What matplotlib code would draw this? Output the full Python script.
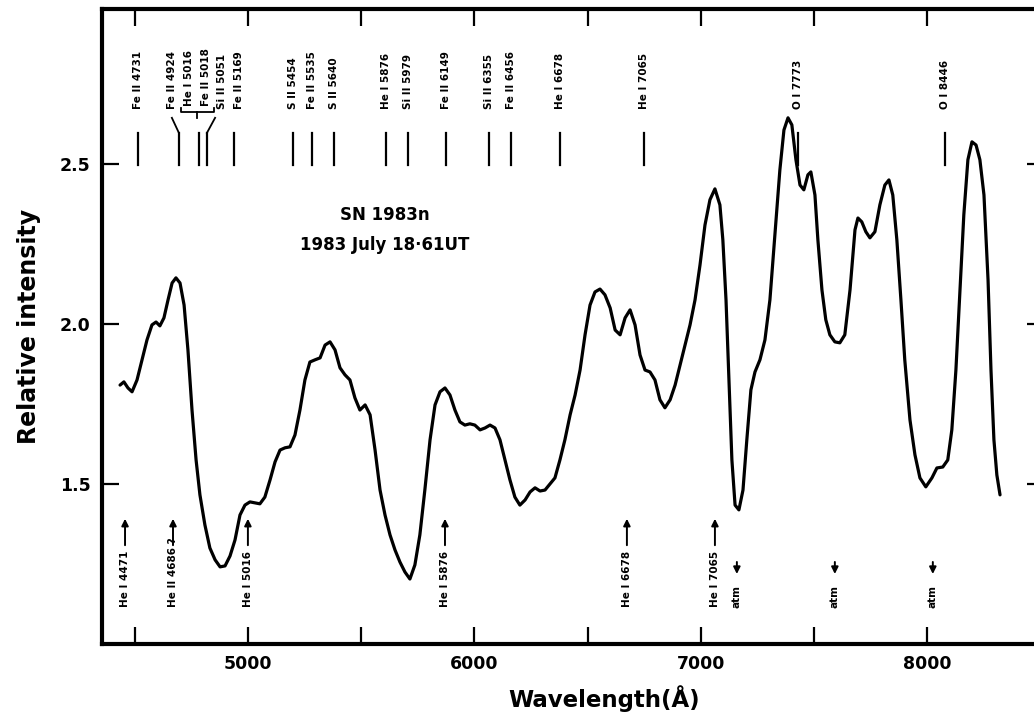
import matplotlib.pyplot as plt

# spectrum of SN 1983n
wave = [4434, 4451, 4469, 4487, 4509, 4531, 4553, 4575, 4593, 4610, 4628, 4646,
        4664, 4681, 4699, 4717, 4734, 4752, 4770, 4787, 4809, 4831, 4854, 4876,
        4898, 4920, 4942, 4964, 4986, 5008, 5030, 5052, 5074, 5097, 5119, 5141,
        5163, 5185, 5207, 5229, 5251, 5273, 5296, 5318, 5340, 5362, 5384, 5406,
        5428, 5450, 5472, 5494, 5517, 5539, 5561, 5583, 5605, 5627, 5649, 5671,
        5693, 5715, 5737, 5759, 5781, 5804, 5826, 5848, 5870, 5892, 5914, 5936,
        5958, 5980, 6002, 6025, 6047, 6069, 6091, 6113, 6135, 6157, 6179, 6201,
        6224, 6246, 6268, 6290, 6312, 6334, 6356, 6378, 6400, 6423, 6445, 6467,
        6489, 6511, 6533, 6555, 6577, 6600, 6622, 6644, 6666, 6688, 6710, 6732,
        6754, 6776, 6798, 6820, 6842, 6865, 6887, 6909, 6931, 6953, 6975, 6997,
        7019, 7041, 7063, 7085, 7098, 7112, 7125, 7138, 7152, 7169, 7187, 7204,
        7222, 7240, 7262, 7284, 7306, 7328, 7350, 7368, 7386, 7403, 7421, 7439,
        7456, 7474, 7487, 7505, 7518, 7536, 7553, 7571, 7593, 7615, 7637, 7660,
        7682, 7695, 7712, 7730, 7748, 7770, 7792, 7814, 7832, 7849, 7867, 7885,
        7902, 7925, 7947, 7969, 7995, 8022, 8044, 8070, 8092, 8110, 8128, 8146,
        8163, 8181, 8199, 8217, 8234, 8252, 8270, 8283, 8296, 8309, 8323]
flux = [1.809, 1.819, 1.800, 1.788, 1.825, 1.888, 1.950, 1.997, 2.006, 1.994, 2.019, 2.075,
        2.128, 2.144, 2.128, 2.059, 1.919, 1.731, 1.575, 1.466, 1.372, 1.300, 1.263, 1.241,
        1.244, 1.275, 1.325, 1.403, 1.434, 1.444, 1.441, 1.438, 1.459, 1.513, 1.569, 1.606,
        1.613, 1.616, 1.653, 1.731, 1.825, 1.881, 1.888, 1.894, 1.934, 1.944, 1.919, 1.863,
        1.841, 1.825, 1.769, 1.731, 1.747, 1.716, 1.606, 1.481, 1.403, 1.341, 1.294, 1.256,
        1.225, 1.203, 1.247, 1.341, 1.481, 1.638, 1.747, 1.788, 1.800, 1.778, 1.731, 1.694,
        1.684, 1.688, 1.684, 1.669, 1.675, 1.684, 1.675, 1.638, 1.575, 1.513, 1.459, 1.434,
        1.450, 1.475, 1.488, 1.478, 1.481, 1.500, 1.519, 1.575, 1.638, 1.716, 1.778, 1.856,
        1.966, 2.059, 2.100, 2.109, 2.091, 2.050, 1.981, 1.966, 2.019, 2.044, 1.997, 1.903,
        1.856, 1.850, 1.825, 1.763, 1.738, 1.763, 1.809, 1.872, 1.934, 1.997, 2.075, 2.184,
        2.309, 2.388, 2.422, 2.372, 2.263, 2.075, 1.825, 1.575, 1.434, 1.419, 1.481, 1.638,
        1.794, 1.850, 1.888, 1.950, 2.075, 2.278, 2.481, 2.606, 2.644, 2.622, 2.513, 2.434,
        2.419, 2.466, 2.475, 2.403, 2.263, 2.106, 2.013, 1.966, 1.944, 1.941, 1.966, 2.106,
        2.294, 2.331, 2.319, 2.288, 2.269, 2.288, 2.372, 2.434, 2.450, 2.403, 2.263, 2.075,
        1.888, 1.700, 1.591, 1.519, 1.491, 1.519, 1.550, 1.553, 1.575, 1.669, 1.856, 2.106,
        2.341, 2.513, 2.569, 2.559, 2.513, 2.403, 2.138, 1.856, 1.638, 1.528, 1.466]

# line identifications at the top (label position, marker position)
top_names = ["Fe II 4731", "Fe II 4924", "He I 5016", "Fe II 5018", "Si II 5051",
             "Fe II 5169", "S II 5454", "Fe II 5535", "S II 5640", "He I 5876",
             "Si II 5979", "Fe II 6149", "Si II 6355", "Fe II 6456", "He I 6678",
             "He I 7065", "O I 7773", "O I 8446"]
top_text_x = [4513, 4663, 4739, 4814, 4884, 4960, 5198, 5282, 5379, 5609,
              5706, 5874, 6064, 6162, 6378, 6749, 7430, 8079]
top_mark_x = [4513, 4694, 4783, 4818, 4937, 5198, 5282, 5379, 5609, 5706,
              5874, 6064, 6162, 6378, 6749, 7430, 8079]

# identifications at the bottom
bot_names = ["He I 4471", "He II 4686 ?", "He I 5016", "He I 5876", "He I 6678", "He I 7065"]
bot_x = [4456, 4668, 4999, 5870, 6674, 7063]
atm_x = [7160, 7593, 8026]

fig = plt.figure(figsize=(10.34, 7.21), dpi=100)
# right edge of the frame falls just outside the picture, as in the scan
ax = fig.add_axes([0.0986, 0.1068, 0.911, 0.8807])

ax.plot(wave, flux, color="black", lw=2.3, solid_capstyle="round", solid_joinstyle="round")

ax.set_xlim(4354, 8517)
ax.set_ylim(1.0, 2.984)

lab = dict(rotation=90, ha="center", fontsize=7.5, fontweight="bold",
           family=["Liberation Sans Narrow", "DejaVu Sans"])

for name, x in zip(top_names, top_text_x):
    y = 2.68 if name in ("He I 5016", "Fe II 5018") else 2.672
    ax.text(x, y, name, va="bottom", **lab)
for x in top_mark_x:
    ax.plot([x, x], [2.497, 2.597], color="black", lw=1.6)
# slanted connectors and bracket
ax.plot([4663, 4694], [2.644, 2.597], color="black", lw=1.3)
ax.plot([4854, 4818], [2.644, 2.597], color="black", lw=1.3)
ax.plot([4705, 4705, 4850, 4850], [2.675, 2.662, 2.662, 2.675], color="black", lw=1.3)
ax.plot([4775, 4775], [2.662, 2.642], color="black", lw=1.3)

arr = dict(arrowstyle="-|>", color="black", lw=1.4, mutation_scale=10)
for name, x in zip(bot_names, bot_x):
    ax.text(x, 1.115, name, va="bottom", **lab)
    ax.annotate("", xy=(x, 1.40), xytext=(x, 1.30), arrowprops=arr)
for x in atm_x:
    ax.text(x, 1.112, "atm", va="bottom", **lab)
    ax.annotate("", xy=(x, 1.21), xytext=(x, 1.265), arrowprops=arr)

ax.text(5605, 2.34, "SN 1983n", ha="center", va="center", fontsize=12, fontweight="bold")
ax.text(5605, 2.247, "1983 July 18·61UT", ha="center", va="center", fontsize=12, fontweight="bold")

ax.set_xticks(range(4500, 8501, 500))
ax.set_xticklabels([str(t) if t % 1000 == 0 else "" for t in range(4500, 8501, 500)])
ax.set_yticks([1.5, 2.0, 2.5])
ax.set_yticklabels(["1.5", "2.0", "2.5"])
ax.tick_params(direction="in", length=12, width=1.6, top=True, right=True,
               labelsize=12.5, pad=8)
for t in ax.get_xticklabels() + ax.get_yticklabels():
    t.set_fontweight("bold")
for s in ax.spines.values():
    s.set_linewidth(3)

ax.set_xlabel("Wavelength(Å)", fontsize=16.5, fontweight="bold", labelpad=8)
ax.xaxis.set_label_coords(0.533, -0.065)
ax.set_ylabel("Relative intensity", fontsize=17, fontweight="bold", labelpad=14)

fig.savefig("out.png", dpi=100)
